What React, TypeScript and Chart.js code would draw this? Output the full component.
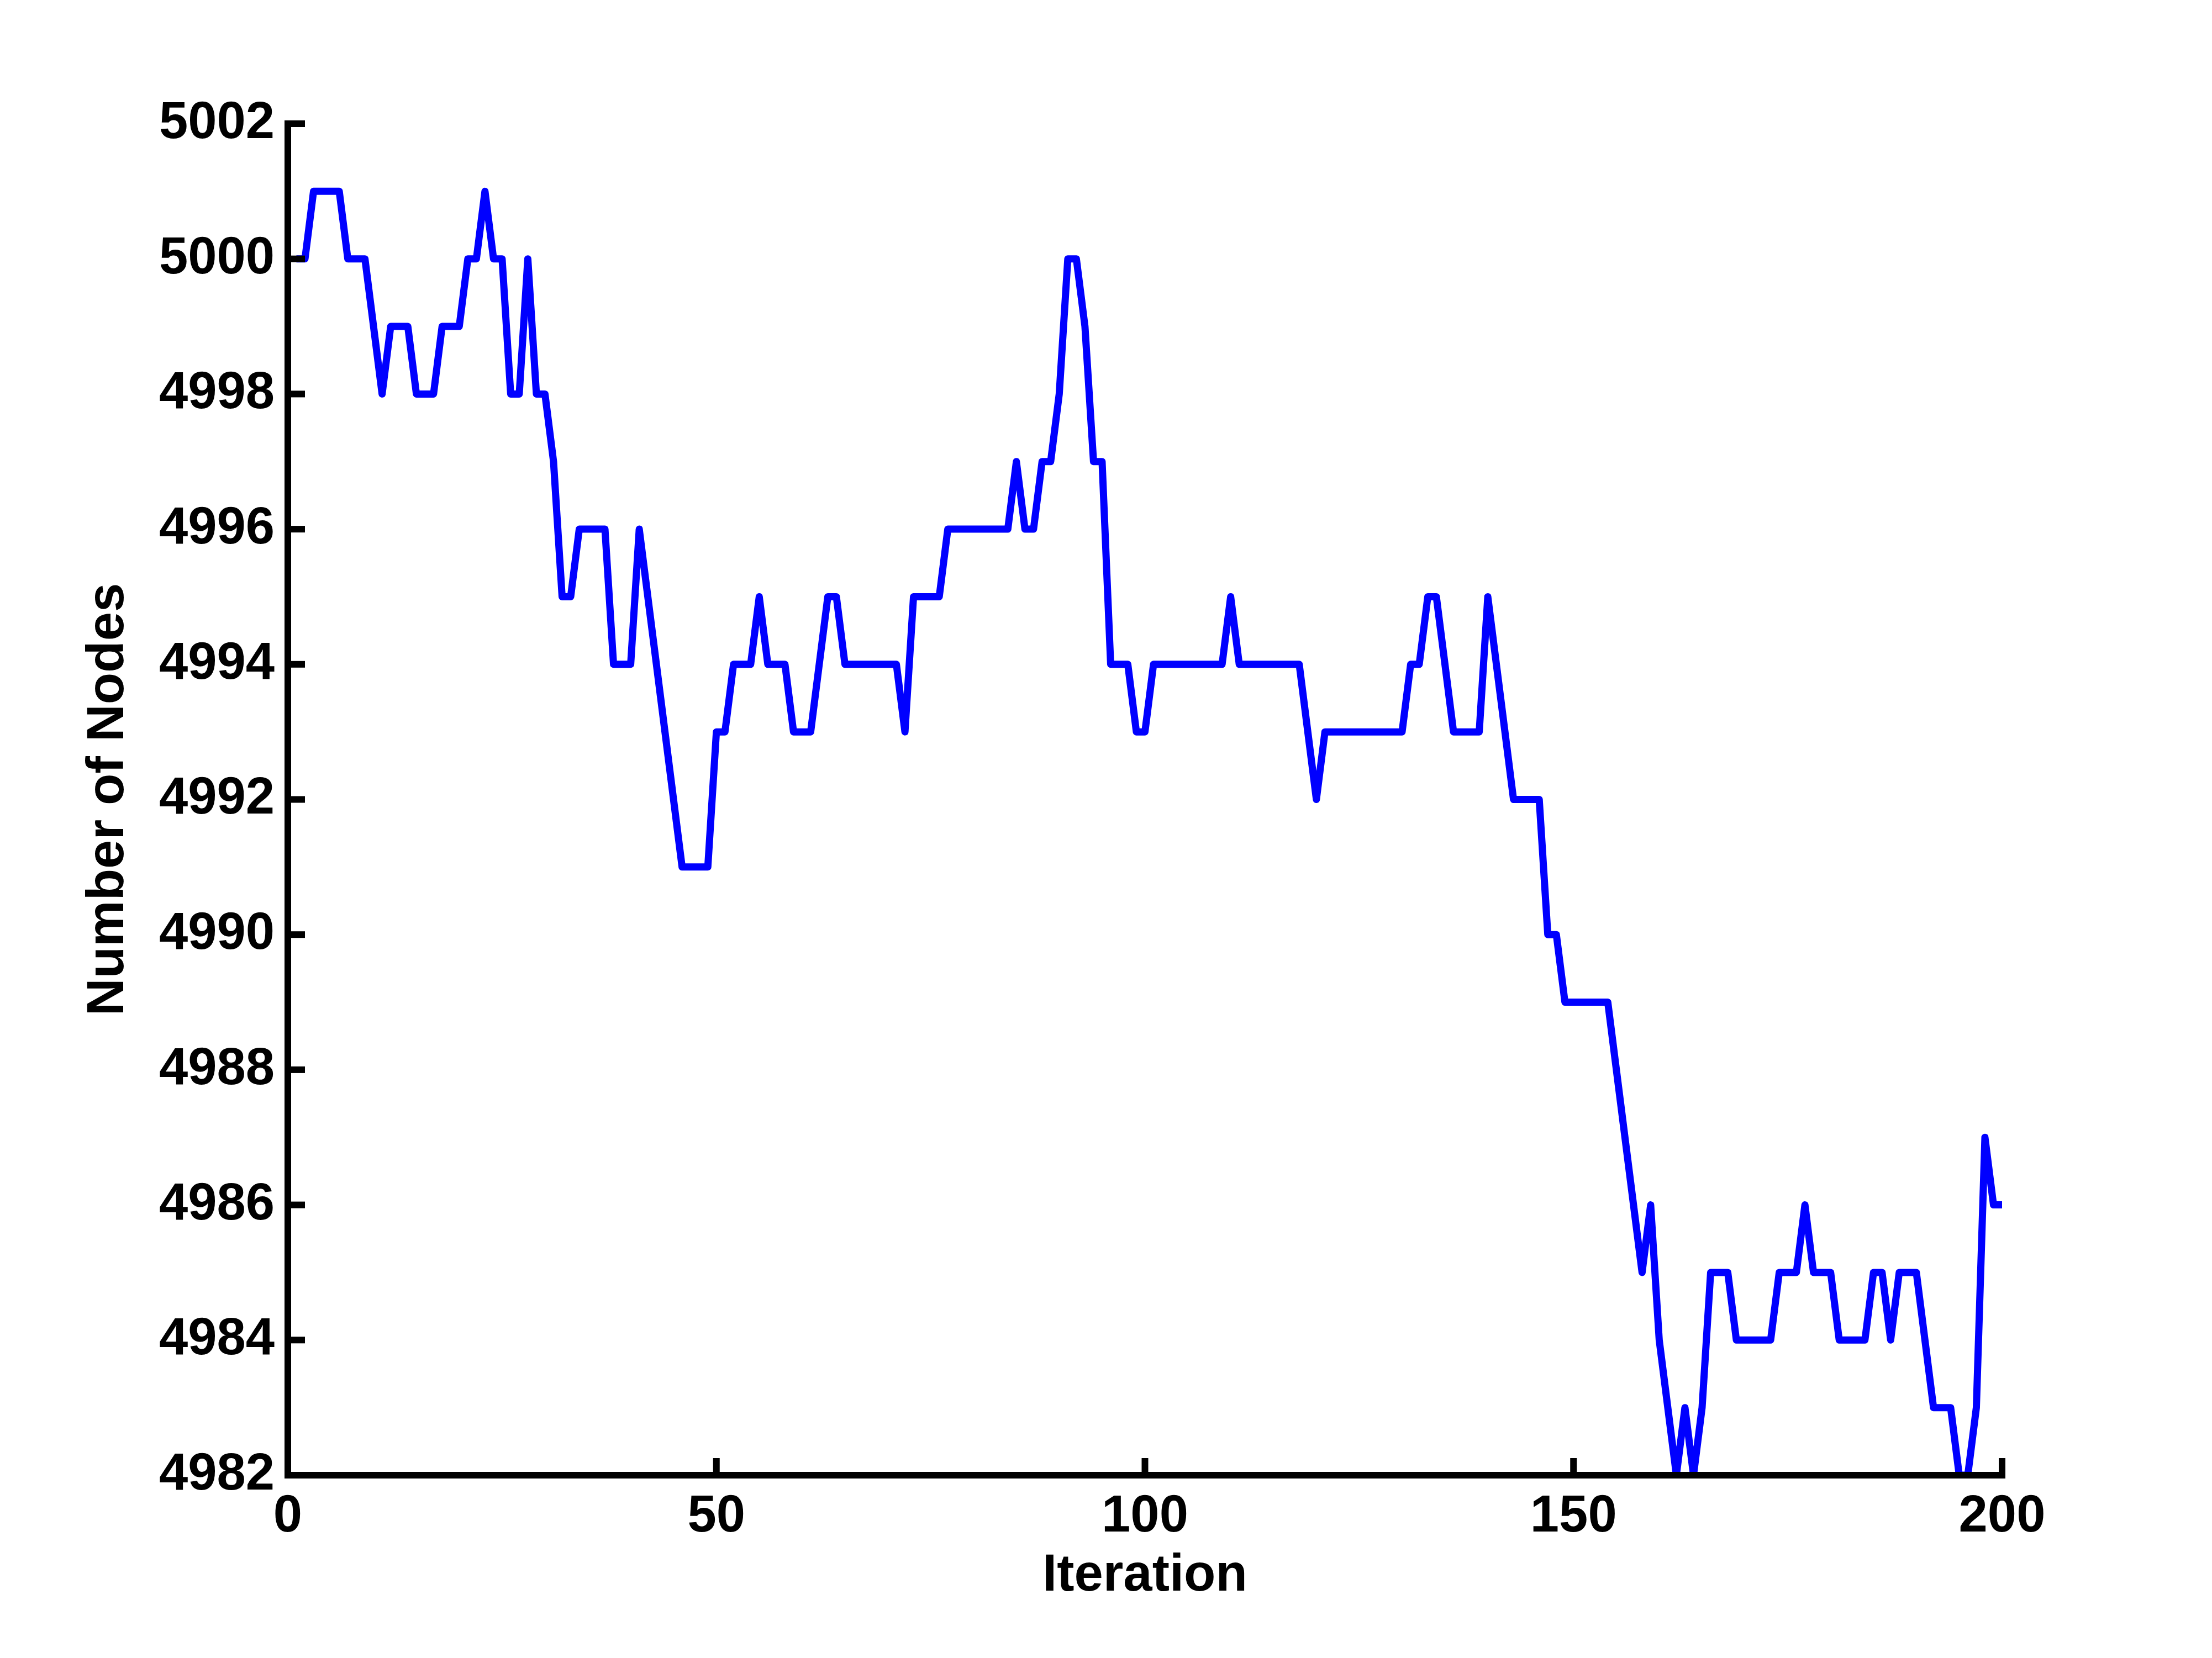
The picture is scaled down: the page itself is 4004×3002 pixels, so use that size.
import React, { useEffect, useRef } from "react";
import { Chart, registerables } from "chart.js";

Chart.register(...registerables);

// Number of nodes at iterations 1..200
const nodeCounts: number[] = [
  5000, 5000, 5001, 5001, 5001, 5001, 5000, 5000, 5000, 4999, // 1-10
  4998, 4999, 4999, 4999, 4998, 4998, 4998, 4999, 4999, 4999, // 11-20
  5000, 5000, 5001, 5000, 5000, 4998, 4998, 5000, 4998, 4998, // 21-30
  4997, 4995, 4995, 4996, 4996, 4996, 4996, 4994, 4994, 4994, // 31-40
  4996, 4995, 4994, 4993, 4992, 4991, 4991, 4991, 4991, 4993, // 41-50
  4993, 4994, 4994, 4994, 4995, 4994, 4994, 4994, 4993, 4993, // 51-60
  4993, 4994, 4995, 4995, 4994, 4994, 4994, 4994, 4994, 4994, // 61-70
  4994, 4993, 4995, 4995, 4995, 4995, 4996, 4996, 4996, 4996, // 71-80
  4996, 4996, 4996, 4996, 4997, 4996, 4996, 4997, 4997, 4998, // 81-90
  5000, 5000, 4999, 4997, 4997, 4994, 4994, 4994, 4993, 4993, // 91-100
  4994, 4994, 4994, 4994, 4994, 4994, 4994, 4994, 4994, 4995, // 101-110
  4994, 4994, 4994, 4994, 4994, 4994, 4994, 4994, 4993, 4992, // 111-120
  4993, 4993, 4993, 4993, 4993, 4993, 4993, 4993, 4993, 4993, // 121-130
  4994, 4994, 4995, 4995, 4994, 4993, 4993, 4993, 4993, 4995, // 131-140
  4994, 4993, 4992, 4992, 4992, 4992, 4990, 4990, 4989, 4989, // 141-150
  4989, 4989, 4989, 4989, 4988, 4987, 4986, 4985, 4986, 4984, // 151-160
  4983, 4982, 4983, 4982, 4983, 4985, 4985, 4985, 4984, 4984, // 161-170
  4984, 4984, 4984, 4985, 4985, 4985, 4986, 4985, 4985, 4985, // 171-180
  4984, 4984, 4984, 4984, 4985, 4985, 4984, 4985, 4985, 4985, // 181-190
  4984, 4983, 4983, 4983, 4982, 4982, 4983, 4987, 4986, 4986, // 191-200
];

const iterations: number[] = nodeCounts.map((_, i) => i + 1);

const xTickValues: number[] = [0, 50, 100, 150, 200];
const yTickValues: number[] = [4982, 4984, 4986, 4988, 4990, 4992, 4994, 4996, 4998, 5000, 5002];

const xTitle = "Iteration";
const yTitle = "Number of Nodes";

const FONT = "'Liberation Sans', Arial, Helvetica, sans-serif";
const FONT_SIZE = 94;
const AXIS_WIDTH = 12;
const TICK_LEN = 31;

const inwardAxesPlugin = {
  id: "inwardAxes",
  afterDraw(chart: any) {
    const { ctx, chartArea, scales } = chart;
    const { left, right, top, bottom } = chartArea;
    ctx.save();
    ctx.strokeStyle = "#000000";
    ctx.lineWidth = AXIS_WIDTH;
    ctx.lineCap = "butt";
    for (const v of yTickValues) {
      const py = scales.y.getPixelForValue(v);
      ctx.beginPath();
      ctx.moveTo(left, py);
      ctx.lineTo(left + TICK_LEN, py);
      ctx.stroke();
    }
    for (const v of xTickValues) {
      const px = scales.x.getPixelForValue(v);
      ctx.beginPath();
      ctx.moveTo(px, bottom);
      ctx.lineTo(px, bottom - TICK_LEN);
      ctx.stroke();
    }
    ctx.lineCap = "square";
    ctx.beginPath();
    ctx.moveTo(left, top);
    ctx.lineTo(left, bottom);
    ctx.lineTo(right, bottom);
    ctx.stroke();
    ctx.restore();
  },
};

export default function App() {
  const canvasRef = useRef<HTMLCanvasElement | null>(null);

  useEffect(() => {
    const canvas = canvasRef.current;
    if (!canvas) return;
    const chart = new Chart(canvas, {
      type: "line",
      data: {
        labels: iterations,
        datasets: [
          {
            data: nodeCounts,
            borderColor: "#0000ff",
            backgroundColor: "#0000ff",
            borderWidth: 13,
            borderJoinStyle: "round",
            borderCapStyle: "butt",
            pointRadius: 0,
            tension: 0,
            fill: false,
          },
        ],
      },
      options: {
        responsive: false,
        animation: false,
        devicePixelRatio: 1,
        layout: { padding: { left: 0, top: 224, right: 380, bottom: 0 } },
        plugins: {
          legend: { display: false },
          tooltip: { enabled: false },
        },
        scales: {
          x: {
            type: "linear",
            min: 0,
            max: 200,
            afterFit: (scale: any) => {
              scale.height = 331;
            },
            afterBuildTicks: (scale: any) => {
              scale.ticks = xTickValues.map((v) => ({ value: v }));
            },
            grid: { display: false, drawTicks: false },
            border: { display: false },
            ticks: {
              color: "#000000",
              padding: 20,
              maxRotation: 0,
              autoSkip: false,
              callback: (v: any) => String(v),
              font: { family: FONT, size: FONT_SIZE, weight: "bold" },
            },
            title: {
              display: true,
              text: xTitle,
              color: "#000000",
              padding: { top: 0, bottom: 92 },
              font: { family: FONT, size: FONT_SIZE, weight: "bold" },
            },
          },
          y: {
            type: "linear",
            min: 4982,
            max: 5002,
            afterFit: (scale: any) => {
              scale.width = 521;
            },
            afterBuildTicks: (scale: any) => {
              scale.ticks = yTickValues.map((v) => ({ value: v }));
            },
            grid: { display: false, drawTicks: false },
            border: { display: false },
            ticks: {
              color: "#000000",
              padding: 24,
              autoSkip: false,
              callback: (v: any) => String(v),
              font: { family: FONT, size: FONT_SIZE, weight: "bold" },
            },
            title: {
              display: true,
              text: yTitle,
              color: "#000000",
              padding: { top: 141, bottom: 0 },
              font: { family: FONT, size: FONT_SIZE, weight: "bold" },
            },
          },
        },
      },
      plugins: [inwardAxesPlugin],
    } as any);
    return () => chart.destroy();
  }, []);

  return (
    <div style={{ position: "absolute", left: 0, top: 0, width: 4004, height: 3002, background: "#ffffff" }}>
      <canvas ref={canvasRef} width={4004} height={3002} style={{ width: 4004, height: 3002, display: "block" }} />
    </div>
  );
}
